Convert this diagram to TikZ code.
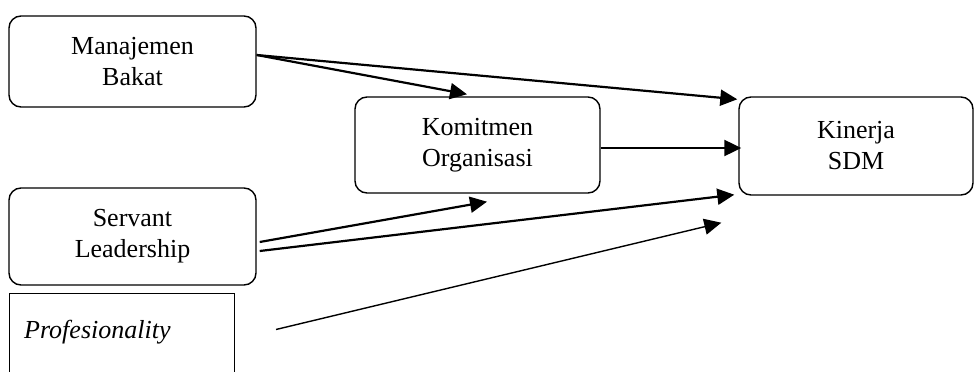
\documentclass[tikz,border=0pt]{standalone}
\usepackage{fontspec}
\setmainfont{Liberation Serif}
\usetikzlibrary{arrows.meta,calc}
\begin{document}
\begin{tikzpicture}[x=1pt,y=-1pt,
  box/.style={draw, line width=1.4pt, rounded corners=12pt, align=center,
    font=\fontsize{26}{31}\selectfont, inner sep=0pt},
  arr/.style={line width=2.2pt, -{Triangle[length=17pt,width=16pt]}},
  thinarr/.style={line width=1.4pt, -{Triangle[length=17pt,width=16pt]}}]
\clip (0,0) rectangle (975,372);

% variables
\node[box, minimum width=247pt, minimum height=91pt] (mb) at (132.5,61.5) {Manajemen\\Bakat};
\node[box, minimum width=247pt, minimum height=97pt] (sl) at (132.5,236.5) {Servant\\Leadership};
\node[box, minimum width=245pt, minimum height=96pt] (ko) at (477.5,145) {Komitmen\\Organisasi};
\node[box, minimum width=234pt, minimum height=98pt] (kin) at (856,146) {Kinerja\\SDM};

% plain frame, running past the lower edge
\node[draw, line width=1pt, minimum width=225pt, minimum height=100pt, inner sep=0pt,
  anchor=north west] (prbox) at (9,293) {};
\node[anchor=base west, inner sep=0pt, font=\fontsize{26}{31}\selectfont\itshape]
  (pr) at (24,338) {Profesionality};

% paths
\draw[arr] ($(mb.east)+(0,-6.5)$) -- ($(ko.north)+(-10.5,-2)$);
\draw[arr] ($(mb.east)+(0,-6.5)$) -- ($(kin.north west)+(-1,3)$);
\draw[arr] ($(ko.east)+(0,3)$) -- ($(kin.west)+(3,2)$);
\draw[arr] ($(sl.east)+(3,5.5)$) -- ($(ko.south)+(9.5,8)$);
\draw[arr] ($(sl.east)+(3,14.5)$) -- ($(kin.south west)+(-4,-1)$);
\draw[thinarr] ($(prbox.east)+(41,-14)$) -- ($(kin.south west)+(-17,27)$);
\end{tikzpicture}
\end{document}
